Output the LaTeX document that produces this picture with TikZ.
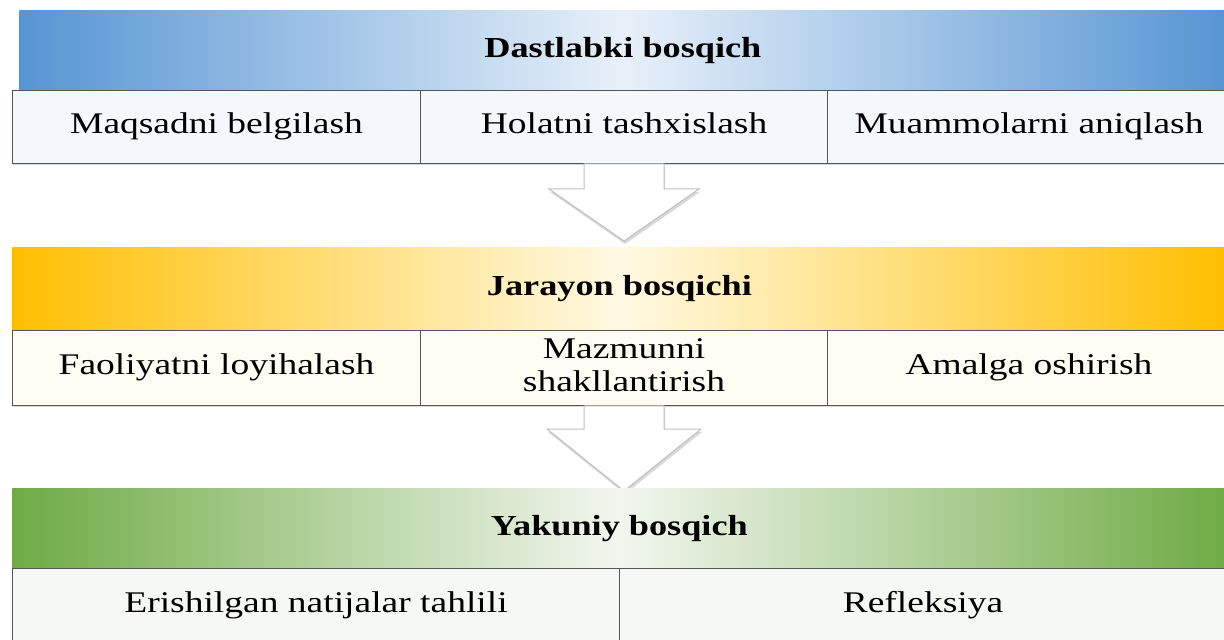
\documentclass[tikz,border=0pt]{standalone}
\usepackage{fontspec}
\setmainfont{Liberation Serif}[FakeStretch=1.25]
\usetikzlibrary{shadows, calc}
\definecolor{blueDark}{RGB}{86,149,211}
\definecolor{blueLight}{RGB}{232,240,249}
\definecolor{yellowDark}{RGB}{255,190,0}
\definecolor{yellowLight}{RGB}{255,249,228}
\definecolor{greenDark}{RGB}{110,171,68}
\definecolor{greenLight}{RGB}{242,246,239}
\definecolor{cellLine}{RGB}{85,85,85}
\tikzset{
  % --- bandas das etapas ---
  stageBand/.style={anchor=north west, inner sep=0pt, minimum height=40pt,
    text height=10pt, text depth=3pt,
    font=\fontsize{14.5}{16}\selectfont\bfseries},
  bandBlue/.style={stageBand, left color=blueDark, right color=blueDark, middle color=blueLight},
  bandYellow/.style={stageBand, left color=yellowDark, right color=yellowDark, middle color=yellowLight},
  bandGreen/.style={stageBand, left color=greenDark, right color=greenDark, middle color=greenLight},
  % --- celulas ---
  cellBox/.style={anchor=north west, draw=cellLine, line width=0.5pt, inner sep=0pt,
    align=center, font=\fontsize{15}{16.5}\selectfont,
    text height=10.5pt, text depth=3.5pt,
    drop shadow={opacity=0.3, shadow xshift=0pt, shadow yshift=-1pt}},
  twoLines/.style={text height=27pt, text depth=3.5pt},
  cellBlue/.style={cellBox, fill={rgb,255:red,244;green,247;blue,252}},
  cellYellow/.style={cellBox, fill={rgb,255:red,255;green,252;blue,243}},
  cellGreen/.style={cellBox, fill={rgb,255:red,245;green,248;blue,243}},
  % --- seta grossa ---
  blockArrow/.style={fill=white, draw=gray!50, line width=0.5pt,
    drop shadow={opacity=0.3, shadow xshift=0.5pt, shadow yshift=-1.5pt}}
}
% seta: no, comprimento da haste, comprimento da cabeca, meia largura da cabeca
\newcommand{\stageArrow}[4]{%
  \path[blockArrow] ($(#1.south)+(-40,0)$) -- ++(0,#2) -- ++(-#4+40,0)
    -- ++(#4,#3) -- ++(#4,-#3) -- ++(-#4+40,0) -- ++(0,-#2) -- cycle;
}

\begin{document}
\begin{tikzpicture}[x=0.5pt, y=-0.5pt]
  \useasboundingbox (0,0) rectangle (1224,640);
  \fill[white] (0,0) rectangle (1224,640);
  \clip (0,0) rectangle (1224,640);

  %% --- ETAPA 1 ---
  \node[bandBlue, minimum width=603.5pt] (dastlabki) at (19,10) {Dastlabki bosqich};
  \node[cellBlue, minimum width=204pt, minimum height=36.5pt] (maqsad) at (12,90) {Maqsadni belgilash};
  \node[cellBlue, minimum width=203.5pt, minimum height=36.5pt] (holat) at (420,90) {Holatni tashxislash};
  \node[cellBlue, minimum width=201.5pt, minimum height=36.5pt] (muammo) at (827,90) {Muammolarni aniqlash};

  % Transicao
  \stageArrow{holat}{25}{52}{75}

  %% --- ETAPA 2 ---
  \node[bandYellow, minimum width=607pt, minimum height=41.5pt] (jarayon) at (12,247) {Jarayon bosqichi};
  \node[cellYellow, minimum width=204pt, minimum height=37.5pt] (faoliyat) at (12,330) {Faoliyatni loyihalash};
  \node[cellYellow, twoLines, minimum width=203.5pt, minimum height=37.5pt] (mazmun) at (420,330) {Mazmunni\\shakllantirish};
  \node[cellYellow, minimum width=201.5pt, minimum height=37.5pt] (amalga) at (827,330) {Amalga oshirish};

  % Transicao
  \stageArrow{mazmun}{23}{62}{77}

  %% --- ETAPA 3 ---
  \node[bandGreen, minimum width=607pt] (yakuniy) at (12,488) {Yakuniy bosqich};
  \node[cellGreen, minimum width=303.5pt, minimum height=37pt] (erishilgan) at (12,568) {Erishilgan natijalar tahlili};
  \node[cellGreen, minimum width=303.5pt, minimum height=37pt] (refleksiya) at (619,568) {Refleksiya};
\end{tikzpicture}
\end{document}
